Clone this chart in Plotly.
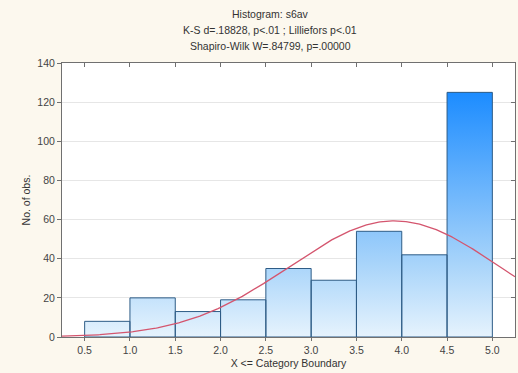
import numpy as np
import plotly.graph_objects as go

# Histogram of s6av: upper category boundaries and counts
bin_upper = [1.0, 1.5, 2.0, 2.5, 3.0, 3.5, 4.0, 4.5, 5.0]
bin_width = 0.5
counts = [8, 20, 13, 19, 35, 29, 54, 42, 125]

# Fitted normal distribution parameters
fit_mean = 3.92
fit_sd = 1.16
n_obs = sum(counts)

x_ticks = [0.5, 1.0, 1.5, 2.0, 2.5, 3.0, 3.5, 4.0, 4.5, 5.0]
y_ticks = [0, 20, 40, 60, 80, 100, 120, 140]

title_lines = [
    "Histogram: s6av",
    "K-S d=.18828, p<.01 ; Lilliefors p<.01",
    "Shapiro-Wilk W=.84799, p=.00000",
]

# Bar outlines as closed polygons (gaps separate the bars)
bx, by = [], []
for up, c in zip(bin_upper, counts):
    lo = up - bin_width
    bx += [lo, lo, up, up, lo, None]
    by += [0, c, c, 0, 0, None]

fig = go.Figure()
fig.add_trace(go.Scatter(
    x=bx, y=by, mode="lines", fill="toself",
    line=dict(color="#2E5C86", width=1),
    fillgradient=dict(
        type="vertical",
        colorscale=[[0, "#E6F3FD"], [0.3, "#A8D4FA"], [1, "#1C8CFF"]],
        start=0, stop=max(counts),
    ),
    hoverinfo="skip", showlegend=False,
))

# Expected frequencies under the fitted normal curve
x_lo, x_hi = 0.25, 5.25
xc = np.linspace(x_lo, x_hi, 300)
yc = n_obs * bin_width / (fit_sd * np.sqrt(2 * np.pi)) * np.exp(-0.5 * ((xc - fit_mean) / fit_sd) ** 2)
fig.add_trace(go.Scatter(
    x=xc, y=yc, mode="lines",
    line=dict(color="#D4556E", width=1.3),
    hoverinfo="skip", showlegend=False,
))

font = dict(family="Liberation Sans, Arial, sans-serif", size=10.5, color="#333333")
frame = "#707070"

fig.update_layout(
    width=518, height=373,
    margin=dict(l=62, r=3, t=63, b=36),
    paper_bgcolor="#FCF8EE",
    plot_bgcolor="#FFFFFF",
    font=font,
    showlegend=False,
    xaxis=dict(
        range=[x_lo, x_hi], tickvals=x_ticks,
        ticktext=[f"{v:.1f}" for v in x_ticks],
        showgrid=False, zeroline=False,
        showline=True, linecolor=frame, linewidth=1, mirror=True,
        ticks="outside", ticklen=3, tickcolor=frame,
        tickfont=dict(size=10.5, color="#444444"),
        title=dict(text="X <= Category Boundary", font=dict(size=10.5, color="#333333"), standoff=5),
    ),
    yaxis=dict(
        range=[0, 140], tickvals=y_ticks,
        showgrid=True, gridcolor="#E6E6E6", gridwidth=1,
        zeroline=False,
        showline=True, linecolor=frame, linewidth=1, mirror=True,
        ticks="outside", ticklen=4, tickcolor=frame,
        tickfont=dict(size=10.5, color="#444444"),
        title=dict(text="No. of obs.", font=dict(size=10.5, color="#333333"), standoff=4),
    ),
    # Inner tick marks on the top and right frame edges
    xaxis2=dict(
        overlaying="x", side="top", anchor="y", matches="x",
        range=[x_lo, x_hi], tickvals=x_ticks, showticklabels=False,
        ticks="inside", ticklen=4, tickcolor=frame,
        showgrid=False, zeroline=False, showline=False,
    ),
    yaxis2=dict(
        overlaying="y", side="right", anchor="x", matches="y",
        range=[0, 140], tickvals=y_ticks, showticklabels=False,
        ticks="inside", ticklen=4, tickcolor=frame,
        showgrid=False, zeroline=False, showline=False,
    ),
)

# A hidden trace so the overlay axes get drawn
fig.add_trace(go.Scatter(x=[None], y=[None], xaxis="x2", yaxis="y2",
                         mode="lines", hoverinfo="skip", showlegend=False))

for i, line in enumerate(title_lines):
    fig.add_annotation(
        text=line, xref="paper", yref="paper",
        x=(270 - 62) / (518 - 62 - 3), y=1,
        yshift=63 - (14 + 15.8 * i),
        xanchor="center", yanchor="middle", showarrow=False,
        font=dict(size=10.5, color="#333333"),
    )

fig.write_html("out.html")
